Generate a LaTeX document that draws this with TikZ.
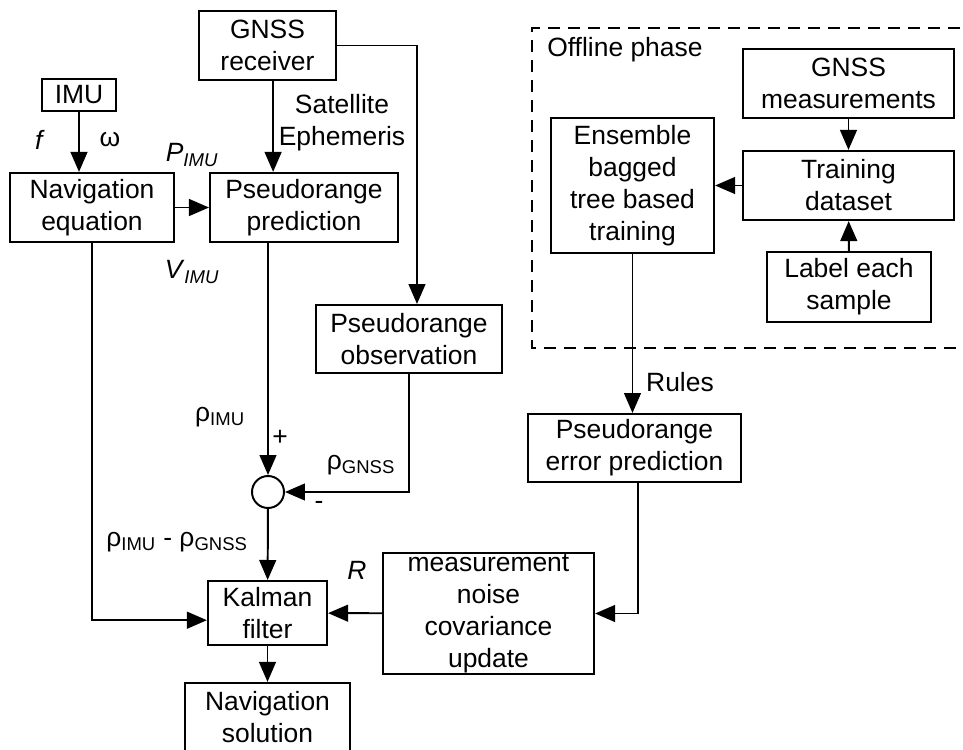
\documentclass[tikz,border=0pt]{standalone}
\usepackage{fontspec}
\setmainfont{Liberation Sans}
\usetikzlibrary{arrows.meta,positioning}

\begin{document}
\begin{tikzpicture}[
  x=0.025cm, y=-0.025cm,
  blk/.style={draw,line width=1.4pt,align=center,inner sep=0pt,
    font=\fontsize{18.8}{22.7}\selectfont},
  lbl/.style={inner sep=0pt,align=center,font=\fontsize{18.8}{22.7}\selectfont},
  arr/.style={line width=1.4pt,-{Triangle[length=0.5cm,width=0.42cm]}},
  ln/.style={line width=1.4pt}
]
  \useasboundingbox (0,0) rectangle (963,750);

  % online navigation chain
  \node[blk,minimum width=3.43cm,minimum height=1.73cm] (gnss) at (267.5,45.5) {GNSS\\receiver};
  \node[blk,minimum width=1.85cm,minimum height=0.8cm] (imu) at (79,95) {IMU};
  \node[blk,minimum width=4.1cm,minimum height=1.73cm] (naveq) at (92,207.5) {Navigation\\equation};
  \node[blk,minimum width=4.7cm,minimum height=1.73cm] (prpred) at (304,207.5) {Pseudorange\\prediction};
  \node[blk,minimum width=4.65cm,minimum height=1.7cm] (probs) at (409,339) {Pseudorange\\observation};
  \node[draw,circle,line width=1.4pt,minimum size=0.8cm,inner sep=0pt] (sum) at (268,492) {};
  \node[blk,minimum width=2.98cm,minimum height=1.6cm] (kf) at (267.5,613) {Kalman\\filter};
  \node[blk,minimum width=4.13cm,minimum height=1.73cm] (navsol) at (267.5,717.5) {Navigation\\solution};
  \node[blk,minimum width=5.28cm,minimum height=3.03cm] (meas) at (488.5,613.5) {measurement\\noise\\covariance\\update};
  \node[blk,minimum width=5.33cm,minimum height=1.7cm] (errpred) at (634.5,448) {Pseudorange\\error prediction};

  % offline phase
  \draw[ln,dash pattern=on 0.3cm off 0.2cm] (980,28) -- (532,28) -- (532,348) -- (980,348);
  \node[lbl,anchor=west] (offl) at (547,50) {Offline phase};
  \node[blk,minimum width=5.28cm,minimum height=1.73cm] (gnssmeas) at (848.5,83.5) {GNSS\\measurements};
  \node[blk,minimum width=5.28cm,minimum height=1.73cm] (trainset) at (848.5,185.5) {Training\\dataset};
  \node[blk,minimum width=4.1cm,minimum height=1.75cm] (labelbox) at (849,287) {Label each\\sample};
  \node[blk,minimum width=4.08cm,minimum height=3.38cm] (ens) at (632.5,185.5) {Ensemble\\bagged\\tree based\\training};

  % connectors
  \draw[arr] (imu) -- (imu |- naveq.north);
  \draw[arr] (naveq) -- (prpred);
  \draw[arr] ([xshift=0.14cm]gnss.south) -- ([xshift=0.14cm]gnss.south |- prpred.north);
  \draw[arr] (gnss.east) -| ([xshift=0.2cm]probs.north);
  \draw[arr] (prpred.south -| sum) -- (sum);
  \draw[arr] (probs) |- (sum);
  \draw[arr] (sum) -- (kf);
  \draw[arr] (naveq) |- ([yshift=-0.18cm]kf.west);
  \draw[arr] (meas) -- (kf);
  \draw[arr] ([xshift=0.09cm]errpred.south) |- (meas.east);
  \draw[arr] (ens.south) -- (ens.south |- errpred.north);
  \draw[arr] (kf) -- (navsol);
  \draw[arr] (gnssmeas) -- (trainset);
  \draw[arr] (labelbox) -- (trainset);
  \draw[arr] (trainset) -- (ens);

  % signal labels
  \node[lbl] (fsig) at (40,140) {\textit{f}};
  \node[lbl] (omega) at (110,140) {ω};
  \node[lbl] (pimu) at (192,155) {\textit{P}\textsubscript{\textit{IMU}}};
  \node[lbl] (vimu) at (192,272) {\textit{V}\textsubscript{\textit{IMU}}};
  \node[lbl] (ephem) at (342,123) {Satellite\\Ephemeris};
  \node[lbl] (rhoimu) at (220,417) {ρ\textsubscript{IMU}};
  \node[lbl] (plus) at (280,438) {+};
  \node[lbl] (rhognss) at (361,465) {ρ\textsubscript{GNSS}};
  \node[lbl] (minus) at (319,505) {-};
  \node[lbl] (diff) at (177,542) {ρ\textsubscript{IMU} - ρ\textsubscript{GNSS}};
  \node[lbl] (rlbl) at (357,570) {\textit{R}};
  \node[lbl] (rules) at (680,382) {Rules};
\end{tikzpicture}
\end{document}
